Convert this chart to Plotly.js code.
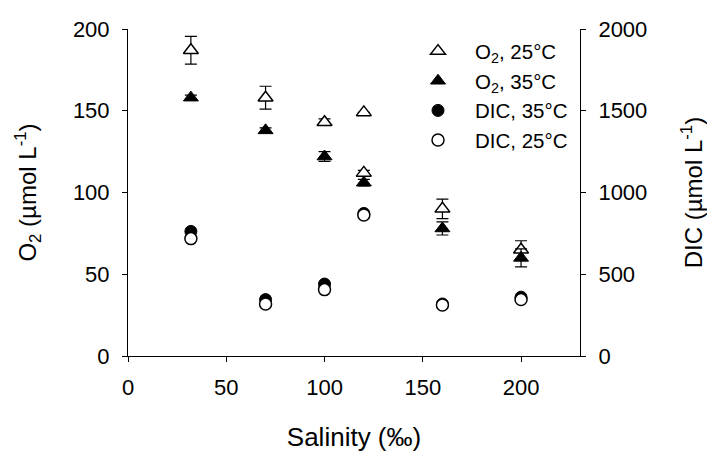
<!DOCTYPE html>
<html>
<head>
<meta charset="utf-8">
<script src="https://cdn.plot.ly/plotly-3.0.1.min.js"></script>
<style>html,body{margin:0;padding:0;background:#fff;}#chart{width:707px;height:452px;}</style>
</head>
<body>
<div id="chart"></div>
<script>
// Salinity (‰)
var o2_25_x = [32, 70, 100, 120, 120, 160, 200];
var o2_25_y = [187, 158, 143, 149, 112, 90, 65];
var o2_25_err = [8.5, 7, 2, 0, 1.5, 6, 5.5];

var o2_35_x = [32, 70, 100, 120, 160, 200];
var o2_35_y = [158, 138, 122, 106, 78, 60];
var o2_35_err = [1.5, 1.5, 3, 2, 4, 5.5];

var dic_35_x = [32, 70, 100, 120, 160, 200];
var dic_35_y = [762, 345, 440, 872, 318, 360];

var dic_25_x = [32, 70, 100, 120, 160, 200];
var dic_25_y = [718, 318, 406, 862, 312, 345];

var font = 'Arial, "Liberation Sans", sans-serif';

var traces = [
  {x: o2_25_x, y: o2_25_y, type: 'scatter', mode: 'markers', name: 'O<sub>2</sub>, 25°C',
   marker: {symbol: 'triangle-up', size: 13, color: '#ffffff', line: {color: '#000', width: 1.5}},
   error_y: {type: 'data', array: o2_25_err, visible: true, color: '#000', thickness: 1.2, width: 6}},
  {x: o2_35_x, y: o2_35_y, type: 'scatter', mode: 'markers', name: 'O<sub>2</sub>, 35°C',
   marker: {symbol: 'triangle-up', size: 13, color: '#000', line: {color: '#000', width: 1}},
   error_y: {type: 'data', array: o2_35_err, visible: true, color: '#000', thickness: 1.2, width: 6}},
  {x: dic_35_x, y: dic_35_y, type: 'scatter', mode: 'markers', name: 'DIC, 35°C', yaxis: 'y2',
   marker: {symbol: 'circle', size: 12, color: '#000', line: {color: '#000', width: 1}}},
  {x: dic_25_x, y: dic_25_y, type: 'scatter', mode: 'markers', name: 'DIC, 25°C', yaxis: 'y2',
   marker: {symbol: 'circle', size: 12, color: '#ffffff', line: {color: '#000', width: 1.5}}}
];

var layout = {
  width: 707, height: 452,
  margin: {l: 128, r: 127, t: 29, b: 96},
  paper_bgcolor: '#fff', plot_bgcolor: '#fff',
  font: {family: font, color: '#000', size: 22},
  showlegend: true,
  legend: {x: 0.604, y: 0.993, xanchor: 'left', yanchor: 'top', font: {size: 20.5, family: font},
           bgcolor: 'rgba(0,0,0,0)', tracegroupgap: 0, itemwidth: 64},
  xaxis: {
    range: [0, 230], tickvals: [0, 50, 100, 150, 200], showgrid: false, zeroline: false,
    showline: true, linecolor: '#000', linewidth: 1, ticks: 'outside', ticklen: 5, tickcolor: '#000',
    tickfont: {size: 22}, ticklabelstandoff: 7,
    title: {text: 'Salinity (‰)', font: {size: 26}, standoff: 32}
  },
  yaxis: {
    range: [0, 200], tickvals: [0, 50, 100, 150, 200], showgrid: false, zeroline: false,
    showline: true, linecolor: '#000', linewidth: 1, ticks: 'outside', ticklen: 5, tickcolor: '#000',
    tickfont: {size: 22}, ticklabelstandoff: 8,
    title: {text: 'O<sub>2</sub> (µmol L<sup>-1</sup>)', font: {size: 24}, standoff: 29}
  },
  yaxis2: {
    overlaying: 'y', side: 'right',
    range: [0, 2000], tickvals: [0, 500, 1000, 1500, 2000], showgrid: false, zeroline: false,
    showline: true, linecolor: '#000', linewidth: 1, ticks: 'outside', ticklen: 5, tickcolor: '#000',
    tickfont: {size: 22}, ticklabelstandoff: 8,
    title: {text: 'DIC (µmol L<sup>-1</sup>)', font: {size: 24}, standoff: 39}
  }
};

Plotly.newPlot('chart', traces, layout, {displayModeBar: false, staticPlot: true});
</script>
</body>
</html>
